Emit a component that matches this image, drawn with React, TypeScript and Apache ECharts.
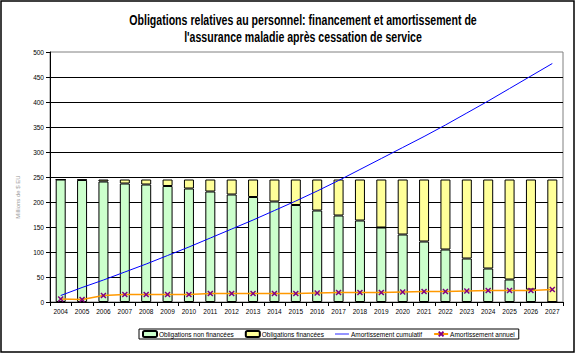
import React, { useEffect, useRef } from "react";
import * as echarts from "echarts";

const years = ["2004","2005","2006","2007","2008","2009","2010","2011","2012","2013","2014","2015","2016","2017","2018","2019","2020","2021","2022","2023","2024","2025","2026","2027"];
const nonFunded = [245,244,241,237,235,232,227,221,215,210,201,194,183,173,163,149,135,121,105,87,67,45,25,0];
const funded = [0,1,4,8,10,13,18,24,30,35,44,51,62,72,82,96,110,124,140,158,178,200,220,245];
const cumulative = [13,29,44,60,76,93,110,128,146,164,183,202,222,243,265,287,309,331,354,378,402,427,452,477];
const annual = [6,5,13,15,15,15,15,17,17,17,17,17,18,19,19,19,20,21,21,22,23,23,23,25];
const titleLines = [
  "Obligations relatives au personnel: financement et amortissement de",
  "l'assurance maladie après cessation de service",
];

const FONT = "'Liberation Sans', Arial, sans-serif";
const XMARK = "path://M0,0L10,10M10,0L0,10";

export default function App() {
  const ref = useRef<HTMLDivElement>(null);
  useEffect(() => {
    const chart = echarts.init(ref.current!, null, { renderer: "svg" });
    chart.setOption({
      animation: false,
      backgroundColor: "#fff",
      grid: { left: 50, right: 14, top: 52, bottom: 52, show: true, borderColor: "#808080", borderWidth: 1 },
      legend: {
        left: 139,
        top: 329,
        padding: [1, 4, 1, 3],
        borderColor: "#000",
        borderWidth: 1,
        itemGap: 11,
        itemWidth: 14,
        itemHeight: 6,
        textStyle: { fontFamily: FONT, fontSize: 6.5, color: "#000", padding: [0, 0, 0, -3] },
        data: [
          "Obligations non financées",
          "Obligations financées",
          { name: "Amortissement cumulatif", icon: "path://M0,0h20v1.2h-20z", itemStyle: { color: "#0000FF" } },
          "Amortissement annuel",
        ],
      },
      xAxis: {
        type: "category",
        data: years,
        axisLine: { lineStyle: { color: "#000", width: 1 } },
        axisTick: { show: true, length: 4, lineStyle: { color: "#000" } },
        axisLabel: { fontFamily: FONT, fontSize: 6.5, color: "#000", margin: 6, interval: 0 },
      },
      yAxis: {
        type: "value",
        min: 0,
        max: 500,
        interval: 50,
        axisLine: { show: true, lineStyle: { color: "#000", width: 1 } },
        axisTick: { show: true, length: 4, lineStyle: { color: "#000" } },
        axisLabel: { fontFamily: FONT, fontSize: 6.5, color: "#000", margin: 6 },
        splitLine: { show: true, showMaxLine: false, lineStyle: { color: "#000", width: 1 } },
      },
      graphic: [
        {
          type: "rect",
          shape: { x: 1, y: 1, width: 573, height: 351 },
          style: { fill: "none", stroke: "#000", lineWidth: 1.5 },
          silent: true,
        },
        {
          type: "text",
          x: 303,
          y: 20,
          scaleX: 0.73,
          style: { text: titleLines[0], fontFamily: FONT, fontSize: 14.5, fontWeight: "bold", fill: "#000", align: "center", verticalAlign: "middle" },
          silent: true,
        },
        {
          type: "text",
          x: 303,
          y: 37,
          scaleX: 0.73,
          style: { text: titleLines[1], fontFamily: FONT, fontSize: 14.5, fontWeight: "bold", fill: "#000", align: "center", verticalAlign: "middle" },
          silent: true,
        },
        {
          type: "text",
          x: 18,
          y: 197,
          rotation: Math.PI / 2,
          style: { text: "Millions de $ EU", fontFamily: FONT, fontSize: 6, fill: "#999", align: "center", verticalAlign: "middle" },
          silent: true,
        },
      ],
      series: [
        {
          name: "Obligations non financées",
          type: "bar",
          stack: "total",
          data: nonFunded,
          barWidth: 10,
          itemStyle: { color: "#CCFFCC", borderColor: "#000", borderWidth: 1 },
        },
        {
          name: "Obligations financées",
          type: "bar",
          stack: "total",
          data: funded,
          barWidth: 10,
          itemStyle: { color: "#FFFF99", borderColor: "#000", borderWidth: 1 },
        },
        {
          name: "Amortissement cumulatif",
          type: "line",
          data: cumulative,
          symbol: "none",
          lineStyle: { color: "#0000FF", width: 1 },
          itemStyle: { color: "#0000FF" },
          z: 5,
        },
        {
          name: "Amortissement annuel",
          type: "line",
          data: annual,
          symbol: XMARK,
          symbolSize: 5,
          lineStyle: { color: "#FF9900", width: 1.5 },
          itemStyle: { color: "#800080", borderColor: "#800080", borderWidth: 1.5 },
          z: 6,
        },
      ],
    });
    return () => chart.dispose();
  }, []);
  return <div ref={ref} style={{ position: "fixed", left: 0, top: 0, width: 577, height: 354 }} />;
}
